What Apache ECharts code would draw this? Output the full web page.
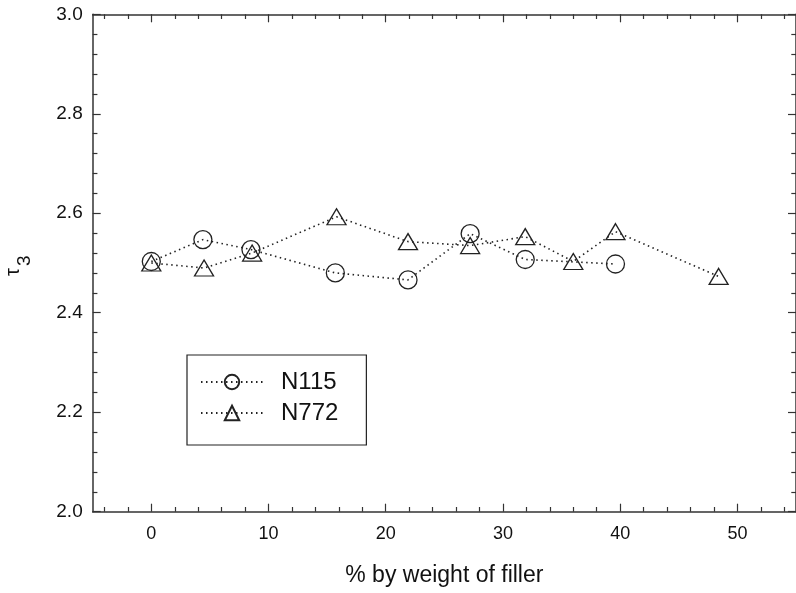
<!DOCTYPE html>
<html>
<head>
<meta charset="utf-8">
<script src="https://cdn.jsdelivr.net/npm/echarts@6/dist/echarts.min.js"></script>
<style>html,body{margin:0;padding:0;background:#fff}#c{width:796px;height:593px}</style>
</head>
<body>
<div id="c"></div>
<script>
// Data
var n115X = [0, 4.4, 8.5, 15.7, 21.9, 27.2, 31.9, 39.6];
var n115Y = [2.503, 2.547, 2.527, 2.480, 2.466, 2.559, 2.507, 2.498];
var n772X = [0, 4.5, 8.6, 15.8, 21.9, 27.2, 31.9, 36.0, 39.6, 48.4];
var n772Y = [2.500, 2.490, 2.520, 2.593, 2.543, 2.535, 2.553, 2.503, 2.563, 2.473];
var xMajorTicks = [0, 10, 20, 30, 40, 50];
var xMinorTicks = [-4, -2, 2, 4, 6, 8, 12, 14, 16, 18, 22, 24, 26, 28, 32, 34, 36, 38, 42, 44, 46, 48, 52, 54];
var seriesNames = ['N115', 'N772'];
var xTitle = '% by weight of filler';

function pairs(xs, ys) { return xs.map(function (x, i) { return [x, ys[i]]; }); }

var FONT = '"Liberation Sans", Arial, sans-serif';
var AX = '#333';
var chart = echarts.init(document.getElementById('c'), null, {renderer: 'canvas'});

function xAx(pos, ticks, len, showLine, showLabel, name) {
  return {
    type: 'value', min: -5, max: 55, position: pos,
    axisLine: {show: showLine, onZero: false, lineStyle: {color: AX, width: 1.5}},
    axisTick: {show: true, inside: true, length: len, customValues: ticks, lineStyle: {color: AX, width: 1.2}},
    axisLabel: {show: showLabel, customValues: ticks, color: '#111', fontSize: 18, fontFamily: FONT, margin: 13},
    splitLine: {show: false},
    name: name || '', nameLocation: 'middle', nameGap: 52,
    nameTextStyle: {color: '#111', fontSize: 23, fontFamily: FONT}
  };
}
function yAx(pos, showLabel) {
  return {
    type: 'value', min: 2.0, max: 3.0, interval: 0.2, position: pos,
    axisLine: {show: true, onZero: false, lineStyle: {color: AX, width: 1.5}},
    axisTick: {show: true, inside: true, length: 8, lineStyle: {color: AX, width: 1.2}},
    minorTick: {show: true, splitNumber: 5, length: 4.7, lineStyle: {color: AX, width: 1.2}},
    axisLabel: {show: showLabel, color: '#111', fontSize: 19, fontFamily: FONT, margin: 10,
      formatter: function (v) { return v.toFixed(1); }},
    splitLine: {show: false}
  };
}

var mk = {color: 'rgba(0,0,0,0)', borderColor: '#222', borderWidth: 1.3};
var ls = {color: '#222', width: 1.6, type: [1.5, 3.5]};

chart.setOption({
  animation: false,
  backgroundColor: '#fff',
  grid: {left: 92.7, top: 14.3, bottom: 81.3, right: -4.7, containLabel: false},
  xAxis: [
    xAx('bottom', xMajorTicks, 8, true, true, xTitle),
    xAx('bottom', xMinorTicks, 4.7, false, false),
    xAx('top', xMajorTicks, 8, true, false),
    xAx('top', xMinorTicks, 4.7, false, false)
  ],
  yAxis: [yAx('left', true), yAx('right', false)],
  legend: {
    orient: 'vertical', left: 187, top: 355,
    padding: [15, 28, 20, 13], itemGap: 7, itemWidth: 62, itemHeight: 18,
    borderColor: '#222', borderWidth: 1.2,
    textStyle: {fontSize: 24, fontFamily: FONT, color: '#111', padding: [0, 0, 0, 13]},
    data: seriesNames
  },
  series: [
    {name: seriesNames[0], type: 'line', data: pairs(n115X, n115Y), symbol: 'circle', symbolSize: 18,
      itemStyle: mk, lineStyle: ls},
    {name: seriesNames[1], type: 'line', data: pairs(n772X, n772Y), symbol: 'triangle', symbolSize: [19, 16],
      itemStyle: mk, lineStyle: ls}
  ],
  graphic: [
    {type: 'text', x: 3, y: 276, rotation: Math.PI / 2,
      style: {text: 'τ', fontSize: 20, fontFamily: FONT, fill: '#111'}},
    {type: 'text', x: 15, y: 266, rotation: Math.PI / 2,
      style: {text: '3', fontSize: 19, fontFamily: FONT, fill: '#111'}}
  ]
});
</script>
</body>
</html>
